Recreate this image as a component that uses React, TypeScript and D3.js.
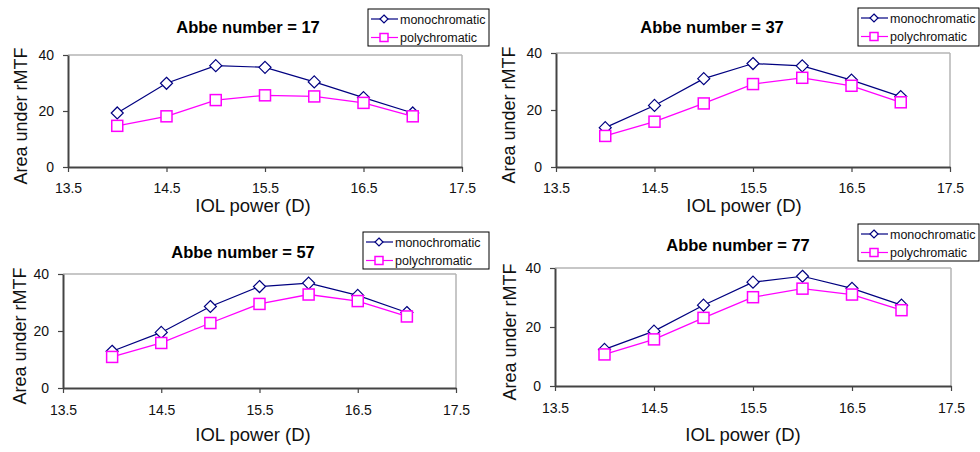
import React, { useEffect, useRef } from "react";
import * as d3 from "d3";

// IOL power (D) for every point
const powers = [14, 14.5, 15, 15.5, 16, 16.5, 17];
const xTicks = [13.5, 14.5, 15.5, 16.5, 17.5];
const yTicks = [0, 20, 40];
const seriesNames = ["monochromatic", "polychromatic"];

// area under rMTF
const mono17 = [19.3, 29.9, 36.2, 35.6, 30.4, 24.8, 19.3];
const poly17 = [14.7, 18.1, 23.9, 25.6, 25.2, 22.9, 18.1];
const mono37 = [13.8, 21.6, 31.0, 36.3, 35.5, 30.5, 24.7];
const poly37 = [10.9, 15.9, 22.3, 29.1, 31.3, 28.5, 22.7];
const mono57 = [12.9, 19.5, 28.6, 35.6, 36.8, 32.5, 26.5];
const poly57 = [10.9, 15.8, 22.8, 29.5, 32.8, 30.5, 25.1];
const mono77 = [12.4, 18.6, 27.4, 35.2, 37.2, 33.1, 27.4];
const poly77 = [10.7, 15.8, 23.1, 30.1, 33.0, 31.0, 25.7];

const panels = [
  { abbe: 17, mono: mono17, poly: poly17, left: 68, right: 462, top: 55, bottom: 167, titleX: 248, titleY: 33, tickY: 193, xTitleX: 253, xTitleY: 212, yTitleX: 27, legend: { x: 368, y: 9, w: 121, h: 37 } },
  { abbe: 37, mono: mono37, poly: poly37, left: 556, right: 950, top: 53, bottom: 167, titleX: 712, titleY: 33, tickY: 193, xTitleX: 744, xTitleY: 212, yTitleX: 515, legend: { x: 858, y: 8, w: 121, h: 38 } },
  { abbe: 57, mono: mono57, poly: poly57, left: 63, right: 456, top: 274, bottom: 388, titleX: 243, titleY: 258, tickY: 415, xTitleX: 253, xTitleY: 441, yTitleX: 26, legend: { x: 363, y: 232, w: 126, h: 37 } },
  { abbe: 77, mono: mono77, poly: poly77, left: 555, right: 951, top: 268, bottom: 386, titleX: 738, titleY: 251, tickY: 413, xTitleX: 743, xTitleY: 441, yTitleX: 516, legend: { x: 858, y: 224, w: 121, h: 37 } },
];

const MONO = "#000080";
const POLY = "#ff00ff";
const FONT = "Liberation Sans, Arial, sans-serif";

const App = () => {
  const ref = useRef(null);

  useEffect(() => {
    const svg = d3.select(ref.current);
    svg.selectAll("*").remove();

    const diamond = (g, cx, cy, r, color) =>
      g.append("path")
        .attr("d", `M${cx},${cy - r}L${cx + r},${cy}L${cx},${cy + r}L${cx - r},${cy}Z`)
        .attr("fill", "white")
        .attr("stroke", color)
        .attr("stroke-width", 1.2);

    const square = (g, cx, cy, r, color) =>
      g.append("rect")
        .attr("x", cx - r).attr("y", cy - r)
        .attr("width", 2 * r).attr("height", 2 * r)
        .attr("fill", "white")
        .attr("stroke", color)
        .attr("stroke-width", 1.5);

    panels.forEach(p => {
      const g = svg.append("g");
      const x = d3.scaleLinear().domain([13.5, 17.5]).range([p.left, p.right]);
      const y = d3.scaleLinear().domain([0, 40]).range([p.bottom, p.top]);

      // frame: light top/right, dark axes
      g.append("line").attr("x1", p.left).attr("x2", p.right).attr("y1", p.top).attr("y2", p.top)
        .attr("stroke", "#b4b4b4").attr("stroke-width", 1.5);
      g.append("line").attr("x1", p.right).attr("x2", p.right).attr("y1", p.top).attr("y2", p.bottom)
        .attr("stroke", "#b4b4b4").attr("stroke-width", 1.5);

      const yAxis = d3.axisLeft(y).tickValues(yTicks).tickSize(5).tickPadding(9).tickSizeOuter(0);
      const xAxis = d3.axisBottom(x).tickValues(xTicks).tickSize(5).tickPadding(0).tickSizeOuter(0).tickFormat(d3.format(".1f"));

      const ya = g.append("g").attr("transform", `translate(${p.left},0)`).call(yAxis);
      const xa = g.append("g").attr("transform", `translate(0,${p.bottom})`).call(xAxis);
      [ya, xa].forEach(a => {
        a.select(".domain").attr("stroke", "#444").attr("stroke-width", 2);
        a.selectAll(".tick line").attr("stroke", "#444").attr("stroke-width", 1.2);
        a.selectAll("text").attr("fill", "#111").style("font-family", FONT).style("font-size", "14px");
      });
      ya.selectAll("text").attr("dy", "0.35em");
      xa.selectAll("text").attr("y", p.tickY - p.bottom).attr("dy", 0);

      // lines + markers
      const line = d3.line().x((d, i) => x(powers[i])).y(d => y(d));
      g.append("path").datum(p.mono).attr("d", line).attr("fill", "none").attr("stroke", MONO).attr("stroke-width", 1.2);
      g.append("path").datum(p.poly).attr("d", line).attr("fill", "none").attr("stroke", POLY).attr("stroke-width", 1.3);
      p.mono.forEach((v, i) => diamond(g, x(powers[i]), y(v), 6, MONO));
      p.poly.forEach((v, i) => square(g, x(powers[i]), y(v), 5.5, POLY));

      // titles
      g.append("text").attr("x", p.titleX).attr("y", p.titleY).attr("text-anchor", "middle")
        .style("font-family", FONT).style("font-size", "16.5px").style("font-weight", "bold")
        .text(`Abbe number = ${p.abbe}`);
      g.append("text").attr("x", p.xTitleX).attr("y", p.xTitleY).attr("text-anchor", "middle")
        .style("font-family", FONT).style("font-size", "18.5px").attr("fill", "#111")
        .text("IOL power (D)");
      g.append("text")
        .attr("transform", `translate(${p.yTitleX},${(p.top + p.bottom) / 2 + 5}) rotate(-90)`)
        .attr("text-anchor", "middle")
        .style("font-family", FONT).style("font-size", "18px").attr("fill", "#111")
        .text("Area under rMTF");

      // legend
      const L = p.legend;
      const lg = g.append("g").attr("transform", `translate(${L.x},${L.y})`);
      lg.append("rect").attr("width", L.w).attr("height", L.h).attr("fill", "white")
        .attr("stroke", "#000").attr("stroke-width", 1);
      seriesNames.forEach((name, i) => {
        const cy = 10 + i * 18.5;
        const color = i === 0 ? MONO : POLY;
        lg.append("line").attr("x1", 3).attr("x2", 30).attr("y1", cy).attr("y2", cy)
          .attr("stroke", color).attr("stroke-width", 1.2);
        if (i === 0) diamond(lg, 16, cy, 4, color);
        else square(lg, 16, cy, 4, color);
        lg.append("text").attr("x", 32).attr("y", cy + 4.5)
          .style("font-family", FONT).style("font-size", "12.5px").attr("fill", "#111")
          .text(name);
      });
    });
  }, []);

  return (
    <div style={{ position: "absolute", left: 0, top: 0 }}>
      <svg ref={ref} width={980} height={452} style={{ display: "block", background: "white" }} />
    </div>
  );
};

export default App;
